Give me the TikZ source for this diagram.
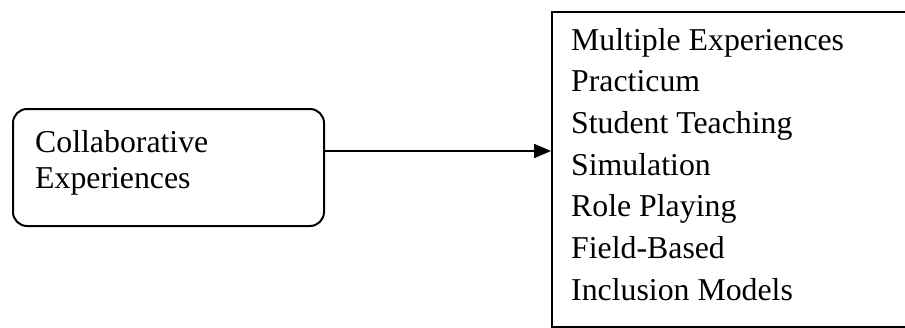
\documentclass[tikz,border=0pt]{standalone}
\usepackage{fontspec}
\setmainfont{Liberation Serif}
\usetikzlibrary{arrows.meta}
\begin{document}
\begin{tikzpicture}[x=1pt,y=-1pt,
  frame/.style={draw=black, line width=2pt, inner sep=0pt, anchor=north west},
  entry/.style={anchor=base west, inner sep=0pt, font=\fontsize{31.8}{36}\selectfont},
  link/.style={draw=black, line width=2pt, -{Triangle[length=17pt,width=14pt]}},
]
\useasboundingbox (0,0) rectangle (905,327);

% rounded source box
\node[frame, rounded corners=14pt, minimum width=311pt, minimum height=117pt] (src) at (12,108) {};
\node[entry] (srcA) at (35,152.5) {Collaborative};
\node[entry] (srcB) at (35,188) {Experiences};

% list box, open past the right edge
\node[frame, minimum width=380pt, minimum height=315pt] (list) at (551,11) {};
\foreach \txt [count=\i from 0] in {Multiple Experiences, Practicum, Student Teaching, Simulation, Role Playing, Field-Based, Inclusion Models}
  \node[entry] (item\i) at (571,{50+41.7*\i}) {\txt};

% connector
\coordinate (start) at (src.east |- 0,151);
\path[link] (start) -- (start -| list.west);
\end{tikzpicture}
\end{document}
